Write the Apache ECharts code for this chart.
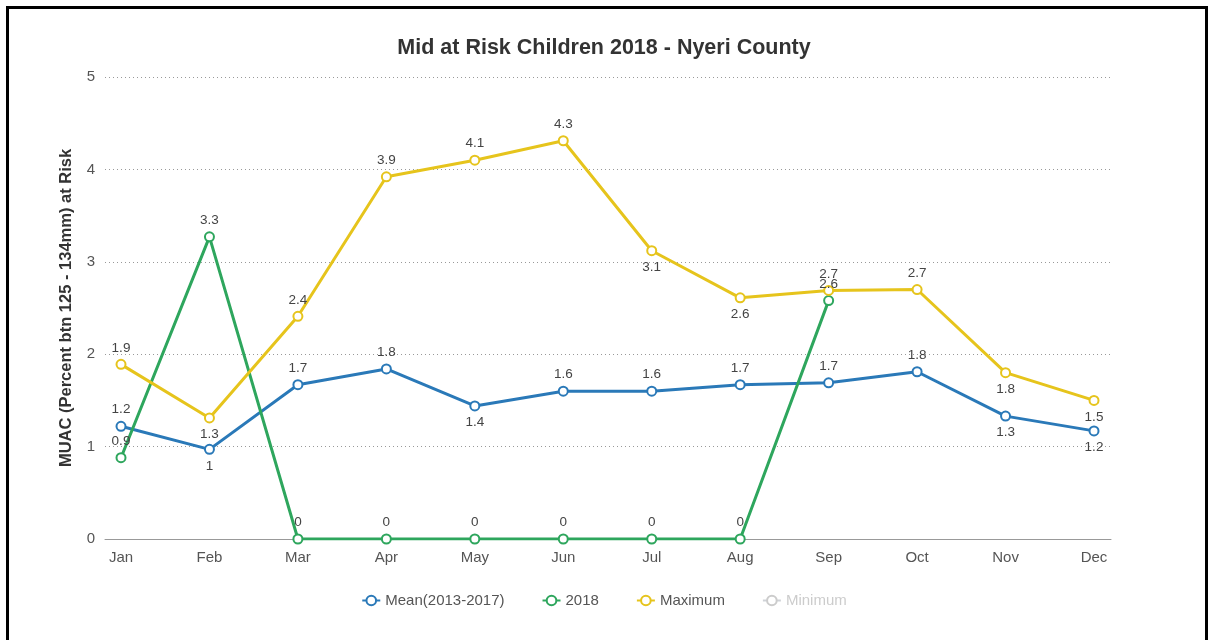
<!DOCTYPE html>
<html>
<head>
<meta charset="utf-8">
<title>Mid at Risk Children 2018 - Nyeri County</title>
<script src="https://cdn.jsdelivr.net/npm/echarts@6/dist/echarts.min.js"></script>
<style>
  html, body { margin: 0; padding: 0; background: #fff; overflow: hidden; }
  #frame {
    position: absolute; left: 6px; top: 6px; width: 1202px; height: 700px;
    border: 3px solid #000; box-sizing: border-box;
  }
  #chart { position: absolute; left: 0; top: 0; width: 1208px; height: 640px; }
</style>
</head>
<body>
<div id="frame"></div>
<div id="chart"></div>
<script>
// Months shown along the x axis
const months = ['Jan', 'Feb', 'Mar', 'Apr', 'May', 'Jun', 'Jul', 'Aug', 'Sep', 'Oct', 'Nov', 'Dec'];

// Percent of children with MUAC 125-134mm
const meanValues = [1.22, 0.97, 1.67, 1.84, 1.44, 1.6, 1.6, 1.67, 1.69, 1.81, 1.33, 1.17];
const values2018 = [0.88, 3.27, 0, 0, 0, 0, 0, 0, 2.58, null, null, null];
const maximumValues = [1.89, 1.31, 2.41, 3.92, 4.1, 4.31, 3.12, 2.61, 2.69, 2.7, 1.8, 1.5];
const minimumValues = [];

// Y axis ticks
const yTicks = { min: 0, max: 5, interval: 1 };

// Which point labels sit under their marker
const meanBelow = [false, true, false, false, true, false, false, false, false, false, true, true];
const maxBelow = [false, true, false, false, false, false, true, true, false, false, true, true];

const FONT = '"Liberation Sans", Arial, Helvetica, sans-serif';

function oneDecimal(v) {
  return String(Math.round(v * 10) / 10);
}

function withLabels(values, below) {
  return values.map(function (v, i) {
    if (v === null) return null;
    return {
      value: v,
      label: { position: below && below[i] ? 'bottom' : 'top' }
    };
  });
}

function lineSeries(name, color, values, below) {
  return {
    name: name,
    type: 'line',
    xAxisIndex: 0,
    yAxisIndex: 0,
    data: withLabels(values, below),
    symbol: 'emptyCircle',
    symbolSize: 9,
    connectNulls: false,
    lineStyle: { color: color, width: 3 },
    itemStyle: { color: color, borderWidth: 2, borderColor: color },
    label: {
      show: true,
      distance: 4,
      color: '#444',
      fontFamily: FONT,
      fontSize: 13.5,
      formatter: function (p) { return oneDecimal(p.value); }
    },
    emphasis: { disabled: true },
    z: 3
  };
}

const chart = echarts.init(document.getElementById('chart'), null, { renderer: 'canvas' });

chart.setOption({
  backgroundColor: 'transparent',
  animation: false,
  color: ['#2a79b8', '#2ea65d', '#e6c41c', '#999999'],
  title: {
    text: 'Mid at Risk Children 2018 - Nyeri County',
    left: 'center',
    top: 32,
    textStyle: { fontFamily: FONT, fontSize: 21.5, fontWeight: 'bold', color: '#333' }
  },
  legend: {
    top: 588,
    left: 'center',
    itemWidth: 18,
    itemHeight: 12,
    itemGap: 37,
    textStyle: { fontFamily: FONT, fontSize: 15, color: '#555' },
    inactiveColor: '#ccc',
    data: ['Mean(2013-2017)', '2018', 'Maximum', 'Minimum'],
    selected: { 'Minimum': false }
  },
  grid: [
    // data area: first and last months sit inset from the plot edges
    { left: 121, right: 114, top: 77, bottom: 101 },
    // backdrop area carrying the grid lines, y labels and base line
    { left: 105, right: 97, top: 77, bottom: 101 }
  ],
  xAxis: [
    {
      type: 'category',
      gridIndex: 0,
      data: months,
      boundaryGap: false,
      axisLine: { show: false },
      axisTick: { show: false },
      splitLine: { show: false },
      axisLabel: { color: '#555', fontFamily: FONT, fontSize: 15, margin: 11 }
    },
    {
      type: 'value',
      gridIndex: 1,
      min: 0, max: 1,
      axisLine: { show: true, lineStyle: { color: '#999', width: 1 } },
      axisTick: { show: false },
      axisLabel: { show: false },
      splitLine: { show: false }
    }
  ],
  yAxis: [
    {
      type: 'value',
      gridIndex: 0,
      min: yTicks.min, max: yTicks.max, interval: yTicks.interval,
      axisLine: { show: false },
      axisTick: { show: false },
      axisLabel: { show: false },
      splitLine: { show: false }
    },
    {
      type: 'value',
      gridIndex: 1,
      min: yTicks.min, max: yTicks.max, interval: yTicks.interval,
      name: 'MUAC (Percent btn 125 - 134mm) at Risk',
      nameLocation: 'middle',
      nameGap: 30,
      nameTextStyle: { fontFamily: FONT, fontSize: 16.5, fontWeight: 'bold', color: '#333' },
      axisLine: { show: false },
      axisTick: { show: false },
      axisLabel: { color: '#555', fontFamily: FONT, fontSize: 15, margin: 10 },
      splitLine: { show: true, lineStyle: { color: '#999', type: [1, 3], width: 1 } }
    }
  ],
  series: [
    lineSeries('Mean(2013-2017)', '#2a79b8', meanValues, meanBelow),
    lineSeries('2018', '#2ea65d', values2018, null),
    lineSeries('Maximum', '#e6c41c', maximumValues, maxBelow),
    lineSeries('Minimum', '#999999', minimumValues, null)
  ]
});
</script>
</body>
</html>
